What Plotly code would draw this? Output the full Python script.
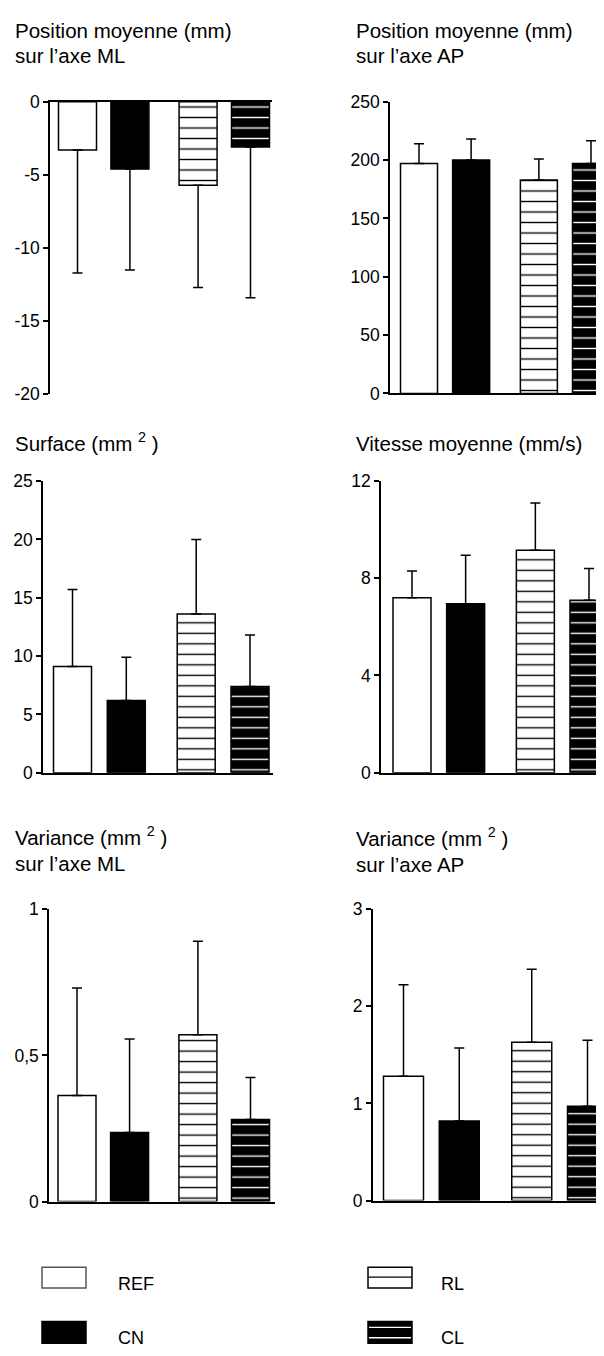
import plotly.graph_objects as go

W, H = 604, 1356

# ---------------- data ----------------
groups = ["REF", "CN", "RL", "CL"]
xpos = [0, 1, 2.3, 3.3]

ml_pos_mean = [-3.3, -4.6, -5.7, -3.1]
ml_pos_sd = [8.4, 6.9, 7.0, 10.3]

ap_pos_mean = [197, 200, 183, 197]
ap_pos_sd = [17, 18, 18, 19.5]

surface_mean = [9.1, 6.2, 13.6, 7.4]
surface_sd = [6.6, 3.7, 6.4, 4.4]

vitesse_mean = [7.2, 6.95, 9.15, 7.1]
vitesse_sd = [1.1, 2.0, 1.95, 1.3]

var_ml_mean = [0.363, 0.236, 0.571, 0.281]
var_ml_sd = [0.368, 0.32, 0.32, 0.144]

var_ap_mean = [1.28, 0.82, 1.63, 0.97]
var_ap_sd = [0.94, 0.75, 0.75, 0.68]

ticks_ml_pos = [0, -5, -10, -15, -20]
ticklabels_ml_pos = ["0", "-5", "-10", "-15", "-20"]
ticks_ap_pos = [0, 50, 100, 150, 200, 250]
ticklabels_ap_pos = ["0", "50", "100", "150", "200", "250"]
ticks_surface = [0, 5, 10, 15, 20, 25]
ticklabels_surface = ["0", "5", "10", "15", "20", "25"]
ticks_vitesse = [0, 4, 8, 12]
ticklabels_vitesse = ["0", "4", "8", "12"]
ticks_var_ml = [0, 0.5, 1]
ticklabels_var_ml = ["0", "0,5", "1"]
ticks_var_ap = [0, 1, 2, 3]
ticklabels_var_ap = ["0", "1", "2", "3"]

# ---------------- layout helpers ----------------
FONT = "Arial, 'Liberation Sans', Helvetica, sans-serif"
OFF = 8  # default page body margin of the written html


def px_x(x):
    return (x - OFF) / W


def px_y(y):
    return 1 - (y - OFF) / H


RIGHT_EDGE = W + OFF

panels = [
    dict(mean=ml_pos_mean, sd=ml_pos_sd, down=True, tv=ticks_ml_pos, tt=ticklabels_ml_pos,
         yr=[-20, 0], ax=50, right=272, c0=77.5, c3=250.5, top=93, bot=390, bw=38),
    dict(mean=ap_pos_mean, sd=ap_pos_sd, down=False, tv=ticks_ap_pos, tt=ticklabels_ap_pos,
         yr=[0, 250], ax=390, right=RIGHT_EDGE, c0=419, c3=591, top=93, bot=389, bw=37),
    dict(mean=surface_mean, sd=surface_sd, down=False, tv=ticks_surface, tt=ticklabels_surface,
         yr=[0, 25], ax=43, right=273, c0=72.5, c3=250, top=478, bot=774, bw=38),
    dict(mean=vitesse_mean, sd=vitesse_sd, down=False, tv=ticks_vitesse, tt=ticklabels_vitesse,
         yr=[0, 12], ax=381, right=RIGHT_EDGE, c0=412, c3=589, top=478, bot=774, bw=38),
    dict(mean=var_ml_mean, sd=var_ml_sd, down=False, tv=ticks_var_ml, tt=ticklabels_var_ml,
         yr=[0, 1], ax=49, right=275, c0=77, c3=250.5, top=912.7, bot=1209.3, bw=38),
    dict(mean=var_ap_mean, sd=var_ap_sd, down=False, tv=ticks_var_ap, tt=ticklabels_var_ap,
         yr=[0, 3], ax=372.7, right=RIGHT_EDGE, c0=403.5, c3=587.5, top=912.3, bot=1208.3, bw=40),
]

styles = {
    "REF": dict(color="white", shape="", fg="black", bg="white"),
    "CN": dict(color="black", shape="", fg="black", bg="black"),
    "RL": dict(color="white", shape="-", fg="black", bg="white"),
    "CL": dict(color="black", shape="-", fg="white", bg="black"),
}

fig = go.Figure()
layout = dict(
    width=W, height=H, margin=dict(l=0, r=0, t=0, b=0),
    paper_bgcolor="white", plot_bgcolor="white", showlegend=False,
    font=dict(family=FONT, color="black"),
    barmode="overlay",
)

for i, p in enumerate(panels, start=1):
    u = (p["c3"] - p["c0"]) / (xpos[3] - xpos[0])
    xr = [xpos[0] + (p["ax"] - p["c0"]) / u, xpos[0] + (p["right"] - p["c0"]) / u]
    xa = "xaxis" if i == 1 else f"xaxis{i}"
    ya = "yaxis" if i == 1 else f"yaxis{i}"
    xref = "x" if i == 1 else f"x{i}"
    yref = "y" if i == 1 else f"y{i}"
    for k, g in enumerate(groups):
        st = styles[g]
        if p["down"]:
            err = dict(type="data", symmetric=False, array=[0], arrayminus=[p["sd"][k]])
        else:
            err = dict(type="data", symmetric=False, array=[p["sd"][k]], arrayminus=[0])
        err.update(color="black", thickness=1.5, width=5, visible=True)
        marker = dict(color=st["color"], line=dict(color="black", width=1.5))
        if st["shape"]:
            marker["pattern"] = dict(shape=st["shape"], fgcolor=st["fg"], bgcolor=st["bg"],
                                     size=10.5, solidity=0.13, fillmode="replace")
        fig.add_trace(go.Bar(
            x=[xpos[k]], y=[p["mean"][k]], width=p["bw"] / u, xaxis=xref, yaxis=yref,
            name=g, marker=marker, error_y=err, cliponaxis=True, hoverinfo="skip",
        ))
    layout[xa] = dict(
        domain=[max(0, px_x(p["ax"])), min(1, px_x(p["right"]))], range=xr, anchor=yref,
        showline=True, linecolor="black", linewidth=1.5, ticks="",
        showticklabels=False, showgrid=False, zeroline=False,
        side="top" if p["down"] else "bottom", fixedrange=True,
    )
    layout[ya] = dict(
        domain=[px_y(p["bot"]), px_y(p["top"])], range=p["yr"], anchor=xref,
        showline=True, linecolor="black", linewidth=1.5, ticks="outside",
        ticklen=5, tickwidth=1.5, tickcolor="black",
        tickvals=p["tv"], ticktext=p["tt"], tickfont=dict(size=17.5, family=FONT),
        showgrid=False, zeroline=False, fixedrange=True,
    )

# ---------------- titles ----------------
TF = 20.5
titles = [
    ("Position moyenne (mm)", 13, 29.3),
    ("sur l\u2019axe ML", 13, 54.3),
    ("Position moyenne (mm)", 353.7, 29.3),
    ("sur l\u2019axe AP", 353.7, 54.3),
    ("Surface (mm <sup>2</sup> )", 13, 448.3),
    ("Vitesse moyenne (mm/s)", 353.7, 448.3),
    ("Variance (mm <sup>2</sup> )", 13, 848.3),
    ("sur l\u2019axe ML", 13, 875),
    ("Variance (mm <sup>2</sup> )", 353.7, 849),
    ("sur l\u2019axe AP", 353.7, 876),
]
annotations = []
for text, x, base in titles:
    annotations.append(dict(
        text=text, x=px_x(x), y=px_y(base + 0.212 * TF + 1), xref="paper", yref="paper",
        xanchor="left", yanchor="bottom", showarrow=False,
        font=dict(size=TF, family=FONT, color="black"), borderpad=1,
    ))

# ---------------- legend (drawn) ----------------
LF = 18
leg_items = [
    ("REF", 42, 86, 1276, 1297, 116, 1300),
    ("CN", 42, 86, 1331, 1353, 116, 1355),
    ("RL", 368, 412, 1276, 1297, 439, 1300),
    ("CL", 368, 412, 1331, 1353, 439, 1355),
]
shapes = []
for name, x0, x1, y0, y1, tx, tb in leg_items:
    fill = "black" if name in ("CN", "CL") else "white"
    lc = "#555" if name == "REF" else "black"
    shapes.append(dict(type="rect", xref="paper", yref="paper",
                       x0=px_x(x0), x1=px_x(x1), y0=px_y(y1), y1=px_y(y0),
                       fillcolor=fill, line=dict(color=lc, width=1.5)))
    if name == "RL":
        for yy in [1286]:
            shapes.append(dict(type="line", xref="paper", yref="paper",
                               x0=px_x(x0), x1=px_x(x1), y0=px_y(yy), y1=px_y(yy),
                               line=dict(color="black", width=1.3)))
    if name == "CL":
        for yy in [1337, 1347.5]:
            shapes.append(dict(type="line", xref="paper", yref="paper",
                               x0=px_x(x0 + 1), x1=px_x(x1 - 1), y0=px_y(yy), y1=px_y(yy),
                               line=dict(color="white", width=1.3)))
    annotations.append(dict(
        text=name, x=px_x(tx), y=px_y(tb + 0.212 * LF + 1), xref="paper", yref="paper",
        xanchor="left", yanchor="bottom", showarrow=False,
        font=dict(size=LF, family=FONT, color="black"), borderpad=1,
    ))

layout["annotations"] = annotations
layout["shapes"] = shapes
fig.update_layout(**layout)
fig.write_html("out.html")
